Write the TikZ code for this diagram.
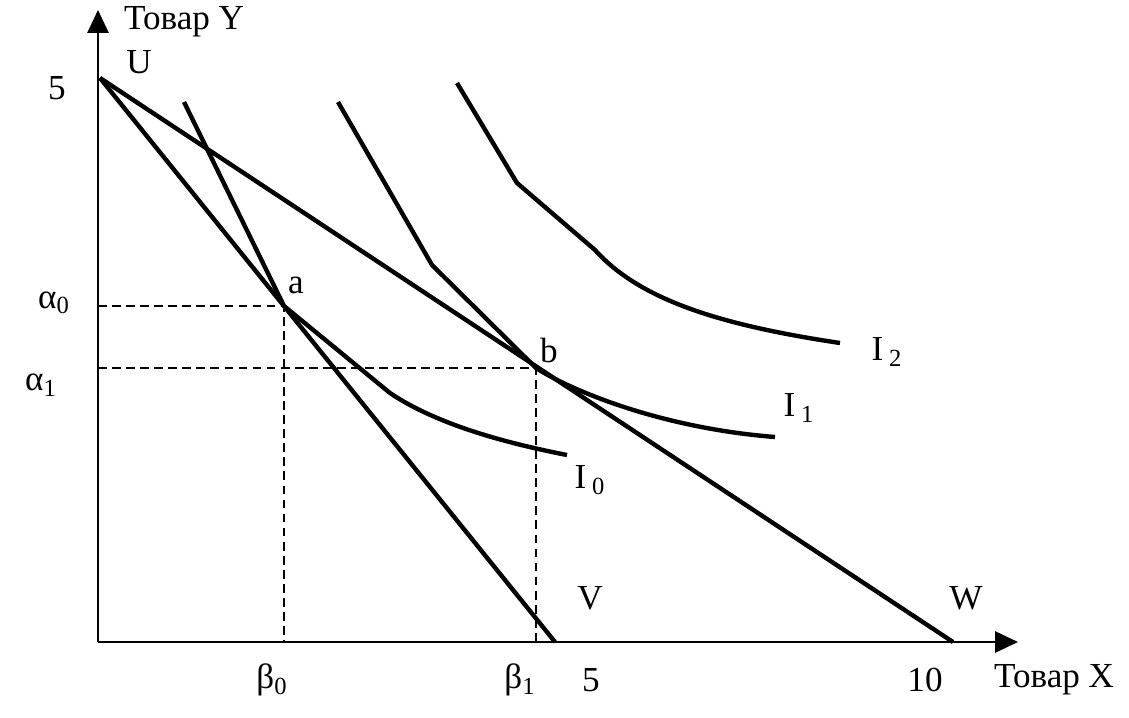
\documentclass[tikz,border=0pt]{standalone}
\usepackage{fontspec}
\setmainfont{Liberation Serif}
\usetikzlibrary{arrows.meta}
\usetikzlibrary{calc}

\begin{document}
\begin{tikzpicture}[x=0.2mm,y=-0.2mm,
	font=\fontsize{20}{22}\selectfont,
	axis/.style={line width=1.2pt,-{Triangle[length=13pt,width=12pt]}},
	budget/.style={line width=2.5pt},
	indiff/.style={line width=2.5pt,line join=round},
	guide/.style={line width=0.9pt,dash pattern=on 5pt off 3pt}]
	\useasboundingbox (0,0) rectangle (1129,717);
	% points
	\coordinate (O) at (98,642);
	\coordinate (Ytop) at (98,10);
	\coordinate (Xend) at (1018,642);
	\coordinate (U) at (100,78);
	\coordinate (V) at (555,642);
	\coordinate (W) at (953,642);
	\coordinate (a) at (284,306);
	\coordinate (b) at (536,368);
	\coordinate (a0) at (98,306);
	\coordinate (a1) at (98,368);
	\coordinate (b0) at (284,642);
	\coordinate (b1) at (536,642);
	% axes
	\draw[axis] (O) -- (Ytop);
	\draw[axis] (O) -- (Xend);
	% budget lines
	\draw[budget] (U) -- (V);
	\draw[budget] (U) -- (W);
	% indifference curves
	\draw[indiff] (184,102) -- (a) -- (390,393) .. controls (430,420) and (490,440) .. (567,455) coordinate (I0end);
	\draw[indiff] (338,102) -- (432,265) -- (b) .. controls (570,390) and (660,428) .. (775,437) coordinate (I1end);
	\draw[indiff] (457,83) -- (517,183) -- (595,250) .. controls (640,300) and (720,325) .. (840,343) coordinate (I2end);
	% guides
	\draw[guide] (a0) -- (a) -- (b0);
	\draw[guide] (a1) -- (b) -- (b1);
	% labels
	\node[anchor=west] (ylab) at (118,22) {Товар Y};
	\node[anchor=west] (xlab) at (988,680) {Товар X};
	\node (Ulab) at (139,62) {U};
	\node (five) at (57,88) {5};
	\node (alpha0) at (54,303) {α\textsubscript{0}};
	\node (alpha1) at (41,385) {α\textsubscript{1}};
	\node (alab) at (296,285) {a};
	\node (blab) at (549,350) {b};
	\node (Vlab) at (590,598) {V};
	\node (Wlab) at (966,598) {W};
	\node (beta0) at (272,680) {β\textsubscript{0}};
	\node (beta1) at (520,680) {β\textsubscript{1}};
	\node (fiveX) at (591,680) {5};
	\node (tenX) at (925,680) {10};
	\node (I0lab) at (590,480) {I\,\textsubscript{0}};
	\node (I1lab) at (799,408) {I\,\textsubscript{1}};
	\node (I2lab) at (887,352) {I\,\textsubscript{2}};
\end{tikzpicture}
\end{document}
